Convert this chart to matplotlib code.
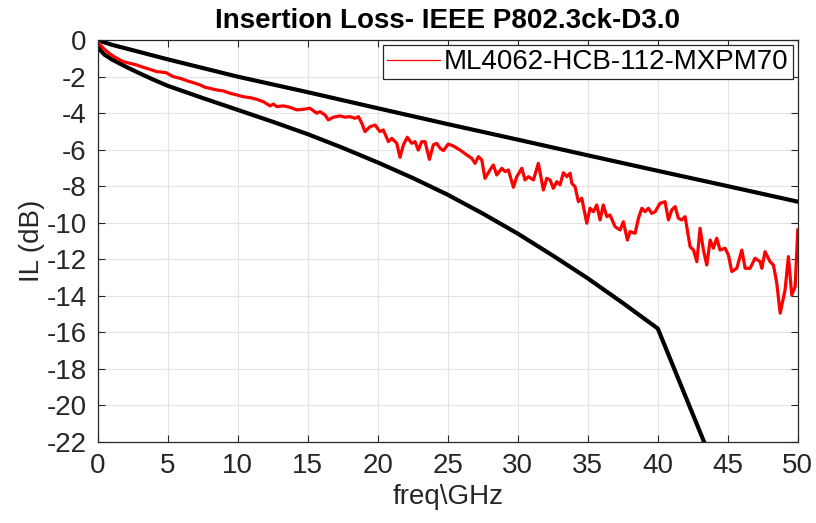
import matplotlib
matplotlib.use('Agg')
import matplotlib.pyplot as plt
from matplotlib.lines import Line2D

plt.rcParams['font.family'] = ['Liberation Sans', 'DejaVu Sans']
plt.rcParams['axes.unicode_minus'] = False

# IEEE P802.3ck upper limit (least loss)
upper_f = [0, 1, 2.5, 5, 10, 15, 20, 25, 30, 35, 40, 45, 50]
upper_il = [0, -0.25, -0.55, -1.05, -2.0, -2.85, -3.73, -4.6, -5.45, -6.31, -7.16, -8.0, -8.85]

# lower limit (max loss)
lower_f = [0, 0.25, 0.5, 1, 2, 3, 4, 5, 7.5, 10, 12.5, 15, 17.5, 20, 22.5, 25, 27.5,
           30, 32.5, 35, 37.5, 40, 43.3, 44]
lower_il = [-0.26, -0.6, -0.8, -1.05, -1.45, -1.82, -2.17, -2.5, -3.17, -3.82, -4.47,
            -5.15, -5.9, -6.7, -7.55, -8.47, -9.5, -10.6, -11.8, -13.05, -14.4,
            -15.8, -22.0, -23.3]

# measured cable ML4062-HCB-112-MXPM70
meas_f = [0, 0.4, 0.88, 1.36, 1.83, 2.31, 2.79, 3.26, 3.74, 4.21, 4.88, 5.4, 5.88,
          6.36, 6.83, 7.31, 7.66, 8.02, 8.5, 8.97, 9.45, 9.93, 10.4, 10.88, 11.36,
          11.83, 12.31, 12.54, 12.79, 13.26, 13.74, 14.21, 14.69, 15.16, 15.64,
          15.88, 16.24, 16.47, 16.83, 17.31, 17.66, 18.02, 18.38, 18.62, 18.86,
          19.09, 19.45, 19.81, 20.16, 20.4, 20.76, 21.0, 21.36, 21.59, 21.83,
          22.11, 22.43, 22.66, 22.9, 23.14, 23.38, 23.69, 23.97, 24.21, 24.45,
          24.69, 25.04, 25.4, 25.88, 26.36, 26.71, 26.95, 27.19, 27.43, 27.66,
          28.02, 28.26, 28.5, 28.86, 29.09, 29.33, 29.69, 29.93, 30.29, 30.52,
          30.76, 31.12, 31.47, 31.83, 32.07, 32.31, 32.54, 32.79, 33.02, 33.26,
          33.5, 33.74, 33.86, 34.09, 34.33, 34.57, 34.93, 35.16, 35.4, 35.64,
          35.88, 36.11, 36.36, 36.59, 36.95, 37.31, 37.54, 37.83, 38.02, 38.38,
          38.62, 38.86, 39.09, 39.33, 39.57, 39.81, 40.16, 40.52, 40.76, 41.0,
          41.24, 41.47, 41.71, 41.95, 42.31, 42.55, 42.79, 43.02, 43.26, 43.5,
          43.74, 43.97, 44.21, 44.45, 44.81, 45.04, 45.29, 45.64, 46.0, 46.24,
          46.59, 46.95, 47.31, 47.43, 47.66, 48.02, 48.26, 48.5, 48.74, 49.09,
          49.33, 49.57, 49.81, 50.0]
meas_il = [-0.08, -0.44, -0.76, -0.99, -1.18, -1.27, -1.36, -1.49, -1.6, -1.72,
           -1.78, -2.0, -2.09, -2.22, -2.33, -2.45, -2.58, -2.64, -2.73, -2.78,
           -2.91, -3.0, -3.1, -3.15, -3.24, -3.37, -3.6, -3.5, -3.64, -3.6, -3.68,
           -3.82, -3.79, -3.73, -4.0, -3.92, -4.1, -4.37, -4.22, -4.15, -4.22,
           -4.19, -4.28, -4.19, -4.55, -5.01, -4.74, -4.65, -5.01, -4.92, -5.56,
           -5.38, -5.65, -6.42, -5.74, -5.32, -5.65, -5.56, -6.02, -5.56, -5.56,
           -6.53, -5.74, -5.65, -5.92, -6.05, -5.69, -5.8, -6.02, -6.29, -6.47,
           -6.75, -6.38, -6.56, -7.57, -7.11, -6.84, -7.39, -7.02, -7.2, -7.11,
           -8.06, -7.48, -7.02, -7.66, -7.48, -7.66, -6.75, -8.21, -7.57, -7.66,
           -8.12, -7.75, -7.93, -7.26, -7.48, -7.29, -7.84, -8.03, -8.85, -8.66,
           -10.03, -9.21, -9.4, -9.03, -9.85, -9.03, -9.67, -9.58, -10.22, -10.4,
           -9.95, -10.95, -10.49, -10.58, -9.76, -9.21, -9.4, -9.21, -9.49, -9.4,
           -8.94, -8.85, -9.85, -9.3, -9.12, -9.76, -9.85, -9.67, -11.32, -11.5,
           -12.14, -10.31, -11.5, -12.32, -10.95, -11.4, -10.85, -11.5, -11.4,
           -11.77, -12.68, -12.5, -11.5, -12.5, -12.5, -11.95, -12.14, -12.5,
           -11.59, -12.14, -12.32, -13.32, -14.96, -13.69, -11.86, -13.96, -13.51,
           -10.4]

xticks = list(range(0, 51, 5))
yticks = list(range(-22, 1, 2))

dark = '#262626'

fig = plt.figure(figsize=(8.16, 5.23), dpi=100)
ax = fig.add_axes([0.1197, 0.1555, 0.858, 0.7677])

ax.plot(upper_f, upper_il, color='black', linewidth=3.0)
ax.plot(lower_f, lower_il, color='black', linewidth=3.0)
ax.plot(meas_f, meas_il, color='#ff0000', linewidth=2.3)

ax.set_xlim(0, 50)
ax.set_ylim(-22, 0)
ax.set_xticks(xticks)
ax.set_yticks(yticks)
ax.grid(True, color='#e3e3e3', linewidth=0.8)
ax.set_axisbelow(True)
ax.tick_params(direction='in', length=5, width=0.8, colors=dark,
               labelsize=20, top=True, right=True, pad=8)
for sp in ax.spines.values():
    sp.set_color(dark)
    sp.set_linewidth(0.9)

ax.set_xlabel('freq\\GHz', fontsize=20, color=dark, labelpad=4)
ax.set_ylabel('IL (dB)', fontsize=20, color=dark, labelpad=1)
ax.set_title('Insertion Loss- IEEE P802.3ck-D3.0', fontsize=20,
             fontweight='bold', color='black', pad=9)

handle = Line2D([], [], color='#ff0000', linewidth=0.9)
leg = ax.legend([handle], ['ML4062-HCB-112-MXPM70'], loc='upper right',
                fontsize=20, frameon=True, fancybox=False, framealpha=1,
                borderaxespad=0.18, borderpad=0.15, handlelength=1.9,
                handletextpad=0.15)
leg.get_frame().set_edgecolor(dark)
leg.get_frame().set_linewidth(0.9)
for t in leg.get_texts():
    t.set_color('black')

fig.savefig('out.png', dpi=100)
